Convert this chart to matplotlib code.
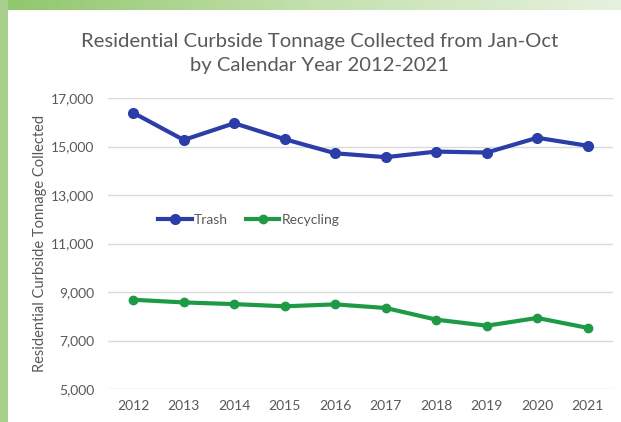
import matplotlib
matplotlib.use("Agg")
import matplotlib.pyplot as plt
import numpy as np
from matplotlib.patches import Rectangle
from matplotlib.colors import LinearSegmentedColormap

years = ["2012", "2013", "2014", "2015", "2016", "2017", "2018", "2019", "2020", "2021"]
trash = [16390, 15270, 15960, 15300, 14720, 14560, 14790, 14750, 15360, 15030]
recycling = [8680, 8570, 8500, 8410, 8490, 8340, 7860, 7610, 7930, 7520]
yticks = [5000, 7000, 9000, 11000, 13000, 15000, 17000]

plt.rcParams['font.family'] = ['Lato', 'DejaVu Sans']
gray = '#595959'

fig = plt.figure(figsize=(6.21, 4.22), dpi=100)
fig.patch.set_facecolor('white')

# decorative green frame
bg = fig.add_axes([0, 0, 1, 1], zorder=-10)
bg.axis('off')
grad = np.linspace(0, 1, 256).reshape(1, -1)
cm = LinearSegmentedColormap.from_list('g', ['#8fc66b', '#c3e0ad', '#e6f1de'])
bg.imshow(grad, extent=[0, 621, 10, 0], aspect='auto', cmap=cm)
bg.add_patch(Rectangle((0, 0), 8, 422, color='#a8d08c', lw=0))
bg.set_xlim(0, 621); bg.set_ylim(422, 0)

ax = fig.add_axes([108/621, 1-389/422, 505/621, 291/422])
x = np.arange(len(years))
ax.plot(x, trash, color='#2b3da6', lw=3, marker='o', ms=7, label='Trash', zorder=3)
ax.plot(x, recycling, color='#1e9a46', lw=3, marker='o', ms=6, label='Recycling', zorder=3)

ax.set_xlim(-0.5, len(years)-0.5)
ax.set_ylim(5000, 17000)
ax.set_yticks(yticks)
ax.set_yticklabels([f"{v:,}" for v in yticks])
ax.set_xticks(x)
ax.set_xticklabels(years)
ax.tick_params(axis='both', length=0, labelsize=10, labelcolor=gray)
ax.tick_params(axis='y', pad=10)
ax.tick_params(axis='x', pad=8)
ax.grid(axis='y', color='#d9d9d9', lw=1)
ax.set_axisbelow(True)
for s in ax.spines.values():
    s.set_visible(False)

ax.set_ylabel('Residential Curbside Tonnage Collected', fontsize=10.5, color=gray, labelpad=3)

leg = ax.legend(loc='center left', bbox_to_anchor=(0.075, 0.581), ncol=2, frameon=False,
                fontsize=10, handlelength=2.4, handletextpad=0.15, columnspacing=1.3,
                labelcolor=gray)

fig.text(0.515, 1-53.5/422, 'Residential Curbside Tonnage Collected from Jan-Oct\nby Calendar Year 2012-2021',
         ha='center', va='center', fontsize=14.6, color=gray, linespacing=1.5)

fig.savefig('out.png', dpi=100)
